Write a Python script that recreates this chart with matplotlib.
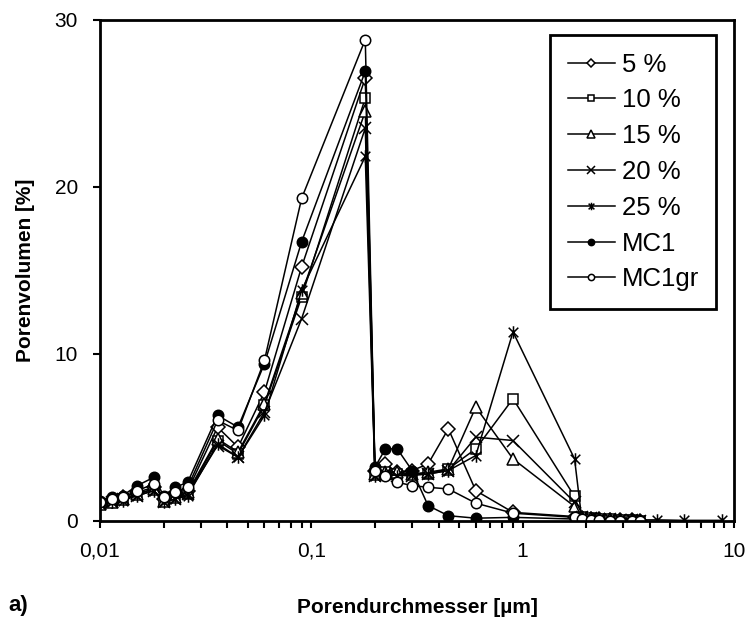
import matplotlib
matplotlib.use("Agg")
import matplotlib.pyplot as plt
from matplotlib.path import Path
from matplotlib.ticker import FixedLocator, LogLocator, NullFormatter

plt.rcParams['font.family'] = ['Liberation Sans', 'DejaVu Sans']

# Pore diameter classes [µm]
diam = [0.01, 0.0114, 0.0128, 0.015, 0.018, 0.02, 0.0227, 0.026, 0.036, 0.045,
        0.06, 0.09, 0.18, 0.2, 0.224, 0.255, 0.3, 0.357, 0.445, 0.6, 0.9,
        1.76, 1.9, 2.1, 2.3, 2.6, 2.9, 3.3, 3.6]
diam_tail_25 = [4.3, 5.8, 8.8]

# Pore volume per class [%]
p05 = [1.0, 1.2, 1.4, 1.7, 2.0, 1.3, 1.6, 1.8, 5.6, 4.4, 7.7, 15.2, 26.5,
       3.0, 3.4, 2.9, 3.0, 3.4, 5.5, 1.8, 0.5, 0.25, 0.15, 0.1, 0.1, 0.05, 0.05, 0.05, 0.0]
p10 = [1.0, 1.1, 1.3, 1.6, 1.9, 1.2, 1.4, 1.6, 4.8, 4.0, 6.9, 13.4, 25.3,
       2.8, 2.9, 2.8, 2.8, 2.8, 3.1, 4.3, 7.3, 1.45, 0.2, 0.15, 0.1, 0.1, 0.05, 0.05, 0.0]
p15 = [1.0, 1.1, 1.3, 1.6, 1.9, 1.2, 1.4, 1.7, 4.9, 4.1, 7.0, 13.6, 24.5,
       2.8, 2.9, 2.9, 2.8, 2.9, 3.1, 6.8, 3.7, 0.85, 0.2, 0.15, 0.1, 0.1, 0.05, 0.05, 0.0]
p20 = [1.0, 1.1, 1.3, 1.5, 1.8, 1.1, 1.3, 1.6, 4.5, 3.8, 6.5, 12.1, 23.5,
       2.7, 2.8, 2.7, 2.7, 2.8, 3.0, 5.0, 4.8, 1.1, 0.2, 0.15, 0.1, 0.1, 0.05, 0.05, 0.0]
p25 = [1.0, 1.1, 1.2, 1.5, 1.8, 1.1, 1.3, 1.5, 4.6, 3.8, 6.3, 13.8, 21.8,
       2.7, 2.8, 2.7, 2.8, 2.8, 3.0, 3.9, 11.3, 3.7, 0.2, 0.15, 0.1, 0.1, 0.1, 0.1, 0.05]
p25_tail = [0.05, 0.02, 0.02]
mc1 = [1.2, 1.4, 1.5, 2.1, 2.6, 1.5, 2.0, 2.3, 6.3, 5.6, 9.4, 16.7, 26.9,
       3.2, 4.3, 4.3, 3.0, 0.9, 0.3, 0.15, 0.2, 0.1, 0.05, 0.05, 0.0, 0.0, 0.0, 0.0, 0.0]
mc1gr = [1.1, 1.3, 1.4, 1.8, 2.2, 1.4, 1.7, 2.0, 6.0, 5.4, 9.6, 19.3, 28.8,
         3.0, 2.7, 2.3, 2.1, 2.0, 1.9, 1.05, 0.45, 0.2, 0.1, 0.05, 0.05, 0.0, 0.0, 0.0, 0.0]

labels = ['5 %', '10 %', '15 %', '20 %', '25 %', 'MC1', 'MC1gr']

# asterisk marker: X with a vertical bar
asterisk = Path([(-1, -1), (1, 1), (-1, 1), (1, -1), (0, -1.3), (0, 1.3)],
                [Path.MOVETO, Path.LINETO, Path.MOVETO, Path.LINETO,
                 Path.MOVETO, Path.LINETO])

fig = plt.figure(figsize=(7.49, 6.21), dpi=100)
ax = fig.add_axes([100 / 749, 1 - 520.7 / 621, 634 / 749, 501.2 / 621])

line_kw = dict(color='black', lw=1.1, mec='black', mew=1.1)
ax.plot(diam, p05, marker='D', ms=7.5, mfc='white', label=labels[0], **line_kw)
ax.plot(diam, p10, marker='s', ms=7.5, mfc='white', label=labels[1], **line_kw)
ax.plot(diam, p15, marker='^', ms=8.5, mfc='white', label=labels[2], **line_kw)
ax.plot(diam, p20, marker='x', ms=8.5, mfc='white', label=labels[3], **line_kw)
ax.plot(diam + diam_tail_25, p25 + p25_tail, marker=asterisk, ms=9,
        label=labels[4], **line_kw)
ax.plot(diam, mc1, marker='o', ms=7.5, mfc='black', label=labels[5], **line_kw)
ax.plot(diam, mc1gr, marker='o', ms=7.5, mfc='white', label=labels[6], **line_kw)

ax.set_xscale('log')
ax.set_xlim(0.01, 10)
ax.set_ylim(0, 30)
ax.xaxis.set_major_locator(FixedLocator([0.01, 0.1, 1, 10]))
ax.set_xticklabels(['0,01', '0,1', '1', '10'])
ax.xaxis.set_minor_locator(LogLocator(base=10, subs=range(2, 10)))
ax.xaxis.set_minor_formatter(NullFormatter())
ax.set_yticks([0, 10, 20, 30])

for s in ax.spines.values():
    s.set_linewidth(2.0)
ax.tick_params(axis='both', which='major', direction='out', length=5, width=1.5,
               labelsize=15)
ax.tick_params(axis='x', which='major', pad=10)
ax.tick_params(axis='y', which='major', pad=11)
ax.tick_params(axis='x', which='minor', direction='out', length=5, width=1.5)

ax.set_ylabel('Porenvolumen [%]', fontsize=15, fontweight='bold', labelpad=14)
ax.set_xlabel('Porendurchmesser [µm]', fontsize=15, fontweight='bold', labelpad=27)
fig.text(8 / 749, 1 - 606 / 621, 'a)', fontsize=16, fontweight='bold',
         va='center', ha='left')

leg = ax.legend(loc='upper right', bbox_to_anchor=(0.972, 0.969),
                borderaxespad=0, fontsize=18.5, frameon=True, fancybox=False,
                edgecolor='black', framealpha=1, handlelength=1.85,
                handletextpad=0.25, labelspacing=0.46, borderpad=0.68,
                markerscale=0.6)
leg.get_frame().set_linewidth(2.0)

fig.savefig('out.png', dpi=100)
